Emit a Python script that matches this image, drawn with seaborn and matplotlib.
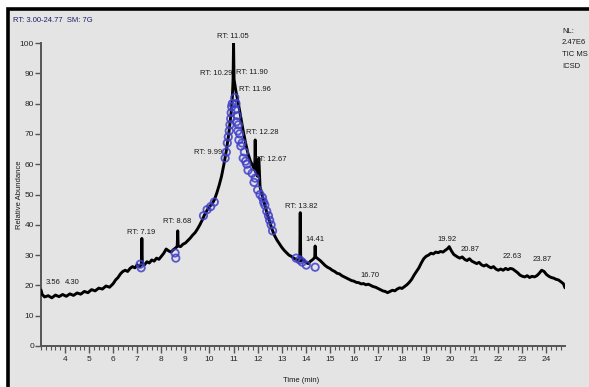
import numpy as np
import pandas as pd
import matplotlib
matplotlib.use('Agg')
import matplotlib.pyplot as plt
from matplotlib.patches import Rectangle
from matplotlib.ticker import MultipleLocator
import seaborn as sns

# ── Chromatogram trace (time in min, relative abundance in %) ────────────────
rt_min = [3.00, 3.05, 3.15, 3.30, 3.45, 3.60, 3.75, 3.90, 4.05, 4.20, 4.35, 4.50,
          4.65, 4.80, 4.95, 5.10, 5.25, 5.40, 5.55, 5.70, 5.85, 6.00, 6.10, 6.20,
          6.30, 6.40, 6.50, 6.60, 6.70, 6.80, 6.90, 7.00, 7.10, 7.17, 7.19, 7.21,
          7.30, 7.40, 7.50, 7.60, 7.70, 7.80, 7.90, 8.00, 8.10, 8.20, 8.30, 8.40,
          8.50, 8.60, 8.66, 8.68, 8.70, 8.80, 8.90, 9.00, 9.10, 9.20, 9.30, 9.40,
          9.50, 9.60, 9.70, 9.80, 9.90, 10.00, 10.10, 10.20, 10.30, 10.40, 10.50,
          10.60, 10.70, 10.80, 10.90, 10.95, 10.98, 11.00, 11.02, 11.06, 11.10,
          11.20, 11.30, 11.40, 11.50, 11.60, 11.70, 11.80, 11.88, 11.90, 11.92,
          12.00, 12.05, 12.10, 12.20, 12.30, 12.40, 12.50, 12.60, 12.70, 12.80,
          12.90, 13.00, 13.10, 13.20, 13.30, 13.40, 13.50, 13.60, 13.75, 13.77,
          13.79, 13.90, 14.00, 14.10, 14.20, 14.30, 14.37, 14.39, 14.41, 14.50,
          14.60, 14.70, 14.80, 14.90, 15.00, 15.10, 15.20, 15.30, 15.40, 15.50,
          15.60, 15.70, 15.80, 15.90, 16.00, 16.10, 16.20, 16.30, 16.40, 16.50,
          16.60, 16.70, 16.80, 16.90, 17.00, 17.10, 17.20, 17.30, 17.40, 17.50,
          17.60, 17.70, 17.80, 17.90, 18.00, 18.10, 18.20, 18.30, 18.40, 18.50,
          18.60, 18.70, 18.80, 18.90, 19.00, 19.10, 19.20, 19.30, 19.40, 19.50,
          19.60, 19.70, 19.80, 19.90, 19.96, 20.05, 20.15, 20.30, 20.40, 20.50,
          20.60, 20.70, 20.80, 20.90, 21.00, 21.10, 21.20, 21.30, 21.40, 21.50,
          21.60, 21.70, 21.80, 21.90, 22.00, 22.10, 22.20, 22.30, 22.40, 22.50,
          22.60, 22.70, 22.80, 22.90, 23.00, 23.10, 23.20, 23.30, 23.40, 23.50,
          23.60, 23.70, 23.80, 23.90, 24.00, 24.10, 24.20, 24.30, 24.40, 24.50,
          24.60, 24.70, 24.77]
abundance = [18.5, 17.0, 16.2, 16.6, 15.9, 16.8, 16.3, 17.0, 16.4, 17.2, 16.7, 17.5,
             17.1, 18.0, 17.6, 18.6, 18.2, 19.1, 18.8, 19.8, 19.4, 20.6, 21.8, 22.6,
             23.8, 24.6, 25.0, 24.6, 25.6, 26.2, 25.8, 26.8, 26.2, 27.0, 35.5, 27.2,
             26.8, 27.8, 27.4, 28.4, 28.0, 29.0, 28.6, 29.6, 30.6, 32.0, 31.4, 31.0,
             31.8, 32.4, 33.0, 38.0, 33.0, 32.8, 33.6, 34.0, 34.8, 35.6, 36.6, 37.4,
             38.6, 40.0, 41.6, 43.4, 44.8, 46.0, 46.8, 48.2, 50.4, 53.0, 56.0,
             60.0, 64.5, 70.0, 77.0, 82.0, 88.0, 100.0, 88.0, 86.0, 84.0,
             80.0, 75.5, 71.0, 67.0, 63.5, 61.0, 59.5, 58.0, 68.0, 57.5,
             56.0, 62.0, 52.5, 49.5, 46.5, 43.5, 41.0, 38.5, 36.5, 35.0,
             33.8, 32.6, 31.6, 30.8, 30.0, 29.6, 29.0, 28.6, 28.0, 44.0,
             28.2, 28.4, 27.6, 27.2, 28.0, 28.6, 29.2, 33.0, 29.4, 28.8,
             28.2, 27.4, 26.6, 26.0, 25.6, 25.0, 24.6, 24.0, 23.8, 23.2,
             22.8, 22.4, 22.0, 21.6, 21.4, 21.0, 20.9, 20.5, 20.6, 20.2,
             20.4, 20.0, 19.6, 19.4, 19.0, 18.6, 18.2, 18.0, 17.6, 18.0,
             18.4, 18.2, 18.8, 19.2, 19.0, 19.6, 20.2, 21.0, 22.0, 23.4,
             24.6, 25.8, 27.4, 28.8, 29.6, 30.0, 30.6, 30.4, 31.0, 30.8,
             31.2, 31.0, 31.6, 32.2, 32.8, 31.4, 30.2, 29.4, 29.0, 29.4,
             28.6, 28.2, 28.8, 28.0, 27.6, 27.2, 27.6, 26.8, 26.4, 26.8,
             26.2, 25.8, 26.2, 25.4, 25.0, 25.4, 25.0, 25.6, 25.2, 25.6,
             25.4, 24.8, 24.2, 23.4, 23.0, 22.8, 23.2, 22.6, 23.0, 22.8,
             23.2, 24.0, 25.0, 24.6, 23.6, 23.0, 22.6, 22.4, 22.0, 21.8,
             21.2, 20.6, 19.2]

# ── Detected peak markers (blue circles) ─────────────────────────────────────
mark_rt = [7.12, 7.16, 8.57, 8.60, 9.75, 9.90, 10.05, 10.20, 10.65, 10.70, 10.74,
           10.78, 10.82, 10.85, 10.88, 10.90, 10.92, 10.95, 11.05, 11.08, 11.10,
           11.12, 11.15, 11.18, 11.20, 11.22, 11.25, 11.30, 11.35, 11.40, 11.45,
           11.50, 11.55, 11.60, 11.77, 11.85, 11.90, 12.00, 12.10, 12.20, 12.25,
           12.30, 12.38, 12.45, 12.50, 12.56, 12.62, 13.60, 13.75, 13.85, 14.02,
           14.39]
mark_ab = [27.0, 25.8, 30.7, 29.0, 43.0, 45.0, 46.0, 47.5, 62.0, 64.0, 67.0,
           69.0, 71.0, 73.0, 75.0, 77.0, 79.0, 80.0, 82.0, 78.0, 80.0,
           74.0, 76.0, 71.0, 73.0, 68.0, 70.0, 66.0, 67.0, 62.0, 64.0,
           61.0, 60.0, 58.0, 57.0, 54.0, 55.4, 51.5, 50.0, 49.0, 47.5,
           46.5, 44.5, 43.0, 41.5, 40.0, 38.0, 29.0, 28.4, 27.7, 26.7,
           26.0]

# ── Peak labels ──────────────────────────────────────────────────────────────
label_text = ['RT: 11.05', 'RT: 10.29', 'RT: 11.90', 'RT: 11.96', 'RT: 12.28',
              'RT: 9.99', 'RT: 12.67', 'RT: 13.82', '14.41', 'RT: 7.19',
              'RT: 8.68', '3.56', '4.30', '16.70', '19.92', '20.87', '22.63',
              '23.87']
label_rt = [10.98, 10.27, 11.77, 11.90, 12.19, 9.94, 12.52, 13.81, 14.39, 7.16,
            8.65, 3.50, 4.29, 16.68, 19.88, 20.84, 22.58, 23.83]
label_ab = [102.0, 90.0, 90.4, 84.5, 70.6, 63.7, 61.4, 46.2, 35.0, 37.6,
            41.0, 20.8, 20.8, 23.4, 35.0, 31.7, 29.4, 28.4]

trace = pd.DataFrame({'rt': rt_min, 'abundance': abundance})
marks = pd.DataFrame({'rt': mark_rt, 'abundance': mark_ab})

sns.set_style('ticks')
FONT = ['Liberation Sans Narrow', 'Liberation Sans', 'DejaVu Sans']
plt.rcParams['font.family'] = FONT

W, H = 589, 387
fig = plt.figure(figsize=(W / 100, H / 100), dpi=100)
fig.patch.set_facecolor('white')
# grey instrument panel with black frame on top/left
fig.patches.append(Rectangle((8 / W, -0.2), 1.3, 1.2 - 9 / H,
                             transform=fig.transFigure, facecolor='#e4e4e4',
                             edgecolor='black', lw=2.6, zorder=-10))

ax = fig.add_axes([41 / W, 41 / H, 524 / W, 303 / H])
ax.set_facecolor('none')

sns.lineplot(data=trace, x='rt', y='abundance', ax=ax, color='black',
             lw=2.1, sort=False, zorder=3)
sns.scatterplot(data=marks, x='rt', y='abundance', ax=ax, marker='o', s=28,
                facecolor='none', edgecolor='#4040c8', linewidth=1.3,
                alpha=0.85, zorder=4)

for s, x, y in zip(label_text, label_rt, label_ab):
    ax.text(x, y, s, ha='center', va='center', fontsize=5.5, color='#1a1a1a')

ax.set_xlim(3.0, 24.77)
ax.set_ylim(0, 100)
ax.xaxis.set_major_locator(MultipleLocator(1))
ax.xaxis.set_minor_locator(MultipleLocator(0.2))
ax.yaxis.set_major_locator(MultipleLocator(10))
ax.tick_params(axis='x', which='major', length=5, width=1.0, labelsize=6,
               pad=2, color='#555555')
ax.tick_params(axis='x', which='minor', length=3, width=0.8, color='#555555')
ax.tick_params(axis='y', which='major', length=4, width=1.0, labelsize=6,
               pad=1, color='#555555')
ax.set_xticks(range(4, 25))
ax.set_xticklabels([str(v) for v in range(4, 25)])
sns.despine(ax=ax)
for sp in ['left', 'bottom']:
    ax.spines[sp].set_color('#555555')
    ax.spines[sp].set_linewidth(1.4)

ax.set_xlabel('')
ax.set_ylabel('')
fig.text(20 / W, 1 - 195 / H, 'Relative Abundance', rotation=90, ha='center',
         va='center', fontsize=5.5, color='#1a1a1a')
fig.text(301 / W, 1 - 380 / H, 'Time (min)', ha='center', va='center',
         fontsize=5.5, color='#1a1a1a')
fig.text(13 / W, 1 - 21 / H, 'RT: 3.00-24.77  SM: 7G', ha='left', va='center',
         fontsize=5.5, color='#1c1c6a')
fig.text(562 / W, 1 - 28 / H, 'NL:\n2.47E6\nTIC MS\nICSD', ha='left', va='top',
         fontsize=5.5, color='#1a1a1a', linespacing=1.9)

fig.savefig('out.png', dpi=100, facecolor=fig.get_facecolor())
